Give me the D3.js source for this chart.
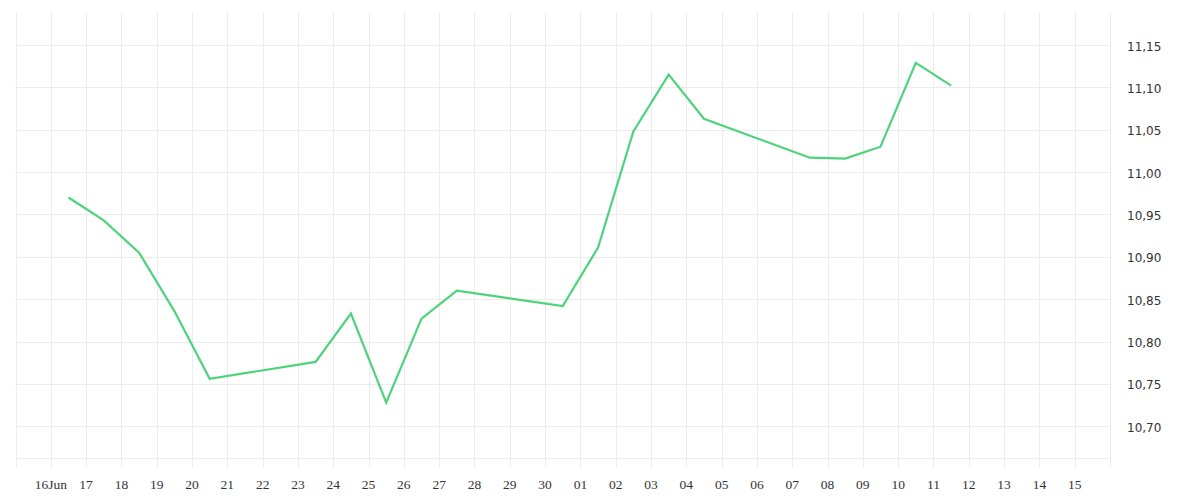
<!DOCTYPE html>
<html>
<head>
<meta charset="utf-8">
<script src="https://cdn.jsdelivr.net/npm/d3@7"></script>
<style>
  html, body { margin: 0; padding: 0; background: #fff; }
  svg { display: block; }
</style>
</head>
<body>
<svg id="chart" width="1200" height="500"></svg>
<script>
// ---- data ----
const dates = ["2025-06-16","2025-06-17","2025-06-18","2025-06-19","2025-06-20",
               "2025-06-23","2025-06-24","2025-06-25","2025-06-26","2025-06-27",
               "2025-06-30","2025-07-01","2025-07-02","2025-07-03","2025-07-04",
               "2025-07-07","2025-07-08","2025-07-09","2025-07-10","2025-07-11"];
const values = [10.970, 10.943, 10.905, 10.836, 10.756,
                10.776, 10.833, 10.728, 10.827, 10.860,
                10.842, 10.911, 11.048, 11.115, 11.063,
                11.017, 11.016, 11.030, 11.129, 11.102];
const yTicks = [10.70, 10.75, 10.80, 10.85, 10.90, 10.95, 11.00, 11.05, 11.10, 11.15];
const xTickDates = ["2025-06-16","2025-06-17","2025-06-18","2025-06-19","2025-06-20","2025-06-21","2025-06-22",
                    "2025-06-23","2025-06-24","2025-06-25","2025-06-26","2025-06-27","2025-06-28","2025-06-29",
                    "2025-06-30","2025-07-01","2025-07-02","2025-07-03","2025-07-04","2025-07-05","2025-07-06",
                    "2025-07-07","2025-07-08","2025-07-09","2025-07-10","2025-07-11","2025-07-12","2025-07-13",
                    "2025-07-14","2025-07-15"];
const xTickLabels = ["16Jun","17","18","19","20","21","22","23","24","25","26","27","28","29","30",
                     "01","02","03","04","05","06","07","08","09","10","11","12","13","14","15"];

// ---- layout ----
const svg = d3.select("#chart");
const plotLeft = 15.5, plotRight = 1110, plotTop = 12, plotBottom = 468, baseY = 458.5;
const parse = d3.timeParse("%Y-%m-%d");

const x = d3.scaleTime()
  .domain([parse("2025-06-15"), parse("2025-07-16")])
  .range([plotLeft, plotRight]);
const y = d3.scaleLinear()
  .domain([10.70, 11.15])
  .range([426.3, 45]);

const gridColor = "#ececec";

// vertical grid lines (every day, including edges)
const allDays = d3.timeDay.range(parse("2025-06-15"), d3.timeDay.offset(parse("2025-07-16"), 1));
svg.append("g").selectAll("line").data(allDays).join("line")
  .attr("x1", d => Math.round(x(d)) + 0.5).attr("x2", d => Math.round(x(d)) + 0.5)
  .attr("y1", plotTop).attr("y2", plotBottom)
  .attr("stroke", gridColor).attr("stroke-width", 1);

// horizontal grid lines
svg.append("g").selectAll("line").data(yTicks).join("line")
  .attr("x1", plotLeft).attr("x2", plotRight)
  .attr("y1", d => Math.round(y(d)) + 0.5).attr("y2", d => Math.round(y(d)) + 0.5)
  .attr("stroke", gridColor).attr("stroke-width", 1);

// baseline
svg.append("line")
  .attr("x1", plotLeft).attr("x2", plotRight)
  .attr("y1", baseY).attr("y2", baseY)
  .attr("stroke", gridColor).attr("stroke-width", 1);

// y labels
const fmt = v => d3.format(".2f")(v).replace(".", ",");
svg.append("g").selectAll("text").data(yTicks).join("text")
  .attr("x", 1127)
  .attr("y", d => y(d) + 2)
  .attr("dominant-baseline", "middle")
  .attr("font-family", "'DejaVu Sans', sans-serif")
  .attr("font-size", "12px")
  .attr("fill", "#333")
  .text(fmt);

// x labels
svg.append("g").selectAll("text").data(xTickDates).join("text")
  .attr("x", d => x(parse(d)))
  .attr("y", 489)
  .attr("text-anchor", "middle")
  .attr("font-family", "'Liberation Serif', serif")
  .attr("font-size", "13.5px")
  .attr("fill", "#333")
  .text((d, i) => xTickLabels[i]);

// line
const pts = dates.map((d, i) => ({ t: d3.timeHour.offset(parse(d), 12), v: values[i] }));
svg.append("path")
  .datum(pts)
  .attr("fill", "none")
  .attr("stroke", "#4cd37b")
  .attr("stroke-width", 2.2)
  .attr("stroke-linejoin", "miter")
  .attr("d", d3.line().x(d => x(d.t)).y(d => y(d.v)));
</script>
</body>
</html>
